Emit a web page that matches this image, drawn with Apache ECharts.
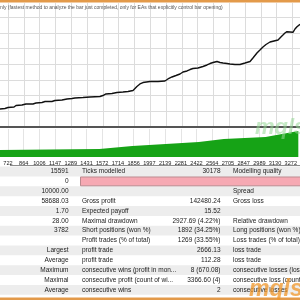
<!DOCTYPE html>
<html><head><meta charset="utf-8">
<script src="https://cdn.jsdelivr.net/npm/echarts@6/dist/echarts.min.js"></script>
<style>html,body{margin:0;padding:0;background:#fff}#c{width:300px;height:300px}</style>
</head><body><div id="c"></div>
<script>
const headerText = 'nly (fastest method to analyze the bar just completed, only for EAs that explicitly control bar opening)';
const tickLabels = [722, 864, 1006, 1147, 1289, 1431, 1572, 1714, 1856, 1997, 2139, 2281, 2422, 2564, 2705, 2847, 2989, 3130, 3272];
const tradeNo = [650, 695, 722, 776, 794, 847, 883, 946, 973, 1027, 1054, 1116, 1143, 1206, 1251, 1296, 1322, 1394, 1457, 1547, 1573, 1600, 1654, 1699, 1753, 1798, 1843, 1860, 1878, 1905, 1932, 1995, 2067, 2129, 2156, 2192, 2228, 2264, 2291, 2327, 2354, 2380, 2425, 2470, 2506, 2533, 2560, 2596, 2623, 2650, 2685, 2712, 2757, 2802, 2847, 2892, 2918, 2954, 2981, 3008, 3035, 3071, 3107, 3143, 3169, 3187, 3205, 3223, 3250, 3277, 3295, 3313, 3340];
const balance = [40730, 40890, 41210, 41370, 41850, 42010, 42330, 42330, 42640, 42800, 43120, 43120, 43440, 43600, 43920, 44080, 44240, 44400, 44560, 44710, 45030, 45510, 45670, 45990, 46150, 46310, 46630, 47100, 47900, 48700, 49170, 49490, 49490, 49650, 50290, 50930, 51400, 51880, 52520, 52840, 53310, 53630, 53790, 54270, 54750, 55220, 55540, 55860, 55540, 55380, 55220, 55070, 54910, 54910, 55380, 55860, 56980, 58570, 59520, 60480, 61280, 62070, 62390, 62710, 63670, 64300, 64940, 65350, 65260, 65160, 66210, 66950, 67710];
const lotTrade = [650, 1547, 1843, 1995, 2443, 2668, 3045, 3340];
const lots = [0.7, 0.8, 1.1, 1.2, 1.5, 1.8, 2.0, 2.6];
const valuesLeft = ['15591', '0', '10000.00', '58688.03', '1.70', '28.00', '3782', '', 'Largest', 'Average', 'Maximum', 'Maximal', 'Average'];
const labelsLeft = ['Ticks modelled', '', '', 'Gross profit', 'Expected payoff', 'Maximal drawdown', 'Short positions (won %)', 'Profit trades (% of total)', 'profit trade', 'profit trade', 'consecutive wins (profit in mon...', 'consecutive profit (count of wi...', 'consecutive wins'];
const valuesRight = ['30178', '', '', '142480.24', '15.52', '2927.69 (4.22%)', '1892 (34.25%)', '1269 (33.55%)', '2666.13', '112.28', '8 (670.08)', '3366.60 (4)', '2'];
const labelsRight = ['Modelling quality', '', 'Spread', 'Gross loss', '', 'Relative drawdown', 'Long positions (won %)', 'Loss trades (% of total)', 'loss trade', 'loss trade', 'consecutive losses (loss in money)', 'consecutive loss (count of losses)', 'consecutive losses'];

const FONT = '"Liberation Sans", Arial, sans-serif';
const rowTop0 = 166.6, rowH = 9.86;
const g = [];
labelsLeft.forEach((_, i) => {
  const top = rowTop0 + rowH * i;
  if (i % 2 === 0) g.push({type: 'rect', shape: {x: 0, y: top, width: 300, height: rowH}, style: {fill: '#ededed'}, z: 1});
  const cy = top + rowH / 2;
  const mk = (t, x, al) => ({type: 'text', z: 5, style: {text: t, x: x, y: cy, fill: '#222', font: '6.5px ' + FONT, fontSize: 6.5, fontFamily: FONT, align: al, verticalAlign: 'middle', textAlign: al, textVerticalAlign: 'middle'}});
  if (valuesLeft[i]) g.push(mk(valuesLeft[i], 68.5, 'right'));
  if (labelsLeft[i]) g.push(mk(labelsLeft[i], 82, 'left'));
  if (valuesRight[i]) g.push(mk(valuesRight[i], 220.5, 'right'));
  if (labelsRight[i]) g.push(mk(labelsRight[i], 233, 'left'));
});
g.push({type: 'rect', z: 3, shape: {x: 80.5, y: rowTop0 + rowH + 0.5, width: 222, height: rowH - 1}, style: {fill: '#f6a9b3', stroke: '#b98a8f', lineWidth: 1}});
g.push({type: 'text', z: 6, style: {text: headerText, x: 0, y: 7.5, fill: '#555', font: '5px ' + FONT, fontSize: 5, fontFamily: FONT, align: 'left', verticalAlign: 'middle', textAlign: 'left', textVerticalAlign: 'middle'}});
g.push({type: 'rect', z: 7, shape: {x: 0, y: 0, width: 300, height: 2.5}, style: {fill: '#e39a4a'}});
g.push({type: 'rect', z: 7, shape: {x: 0, y: 297.5, width: 300, height: 2.5}, style: {fill: '#e39a4a'}});
g.push({type: 'rect', z: 2, shape: {x: 10, y: 165, width: 290, height: 0.8}, style: {fill: '#666'}});
g.push({type: 'text', z: 8, style: {text: 'mqlsi', x: 249, y: 290, fill: 'rgba(240,150,40,0.75)', font: 'italic bold 23px ' + FONT, fontSize: 23, fontStyle: 'italic', fontWeight: 'bold', fontFamily: FONT, align: 'left', verticalAlign: 'middle', textAlign: 'left', textVerticalAlign: 'middle'}});
g.push({type: 'text', z: 8, style: {text: 'mqlsi', x: 255, y: 128, fill: 'rgba(150,215,150,0.55)', font: 'italic bold 22px ' + FONT, fontSize: 22, fontStyle: 'italic', fontWeight: 'bold', fontFamily: FONT, align: 'left', verticalAlign: 'middle', textAlign: 'left', textVerticalAlign: 'middle'}});

const chart = echarts.init(document.getElementById('c'), null, {renderer: 'canvas'});
chart.setOption({
  animation: false,
  backgroundColor: '#fff',
  grid: [
    {left: 0, right: 0, top: 3, height: 124, containLabel: false},
    {left: 0, right: 0, top: 129, height: 28, containLabel: false}
  ],
  xAxis: [
    {gridIndex: 0, type: 'value', min: 650.3, max: 3340,
      axisLine: {show: true, onZero: false, lineStyle: {color: '#555', width: 2}},
      axisTick: {show: false, customValues: tickLabels}, axisLabel: {show: false, customValues: tickLabels},
      splitLine: {show: true, lineStyle: {color: '#dcdcdc', width: 1}}},
    {gridIndex: 1, type: 'value', min: 650.3, max: 3340,
      axisLine: {show: false}, axisTick: {show: false, customValues: tickLabels},
      axisLabel: {show: true, customValues: tickLabels, color: '#222', fontSize: 5.6, fontFamily: FONT, margin: 3, formatter: v => String(v)},
      splitLine: {show: true, lineStyle: {color: '#e4e4e4', width: 1}}}
  ],
  yAxis: [
    {gridIndex: 0, type: 'value', min: 35000, max: 74490, interval: 5000,
      axisLine: {show: false}, axisTick: {show: false}, axisLabel: {show: false},
      splitLine: {show: true, showMinLine: false, showMaxLine: false, lineStyle: {color: '#dcdcdc', width: 1}}},
    {gridIndex: 1, type: 'value', min: 0, max: 2.8,
      axisLine: {show: false}, axisTick: {show: false}, axisLabel: {show: false}, splitLine: {show: false}}
  ],
  series: [
    {type: 'line', xAxisIndex: 0, yAxisIndex: 0, data: tradeNo.map((t, i) => [t, balance[i]]),
      symbol: 'none', lineStyle: {color: '#111', width: 1.4}, z: 3},
    {type: 'line', xAxisIndex: 1, yAxisIndex: 1, data: lotTrade.map((t, i) => [t, lots[i]]),
      symbol: 'none', lineStyle: {width: 0}, areaStyle: {color: '#16a316', opacity: 1}, z: 3}
  ],
  graphic: g
});
</script></body></html>
